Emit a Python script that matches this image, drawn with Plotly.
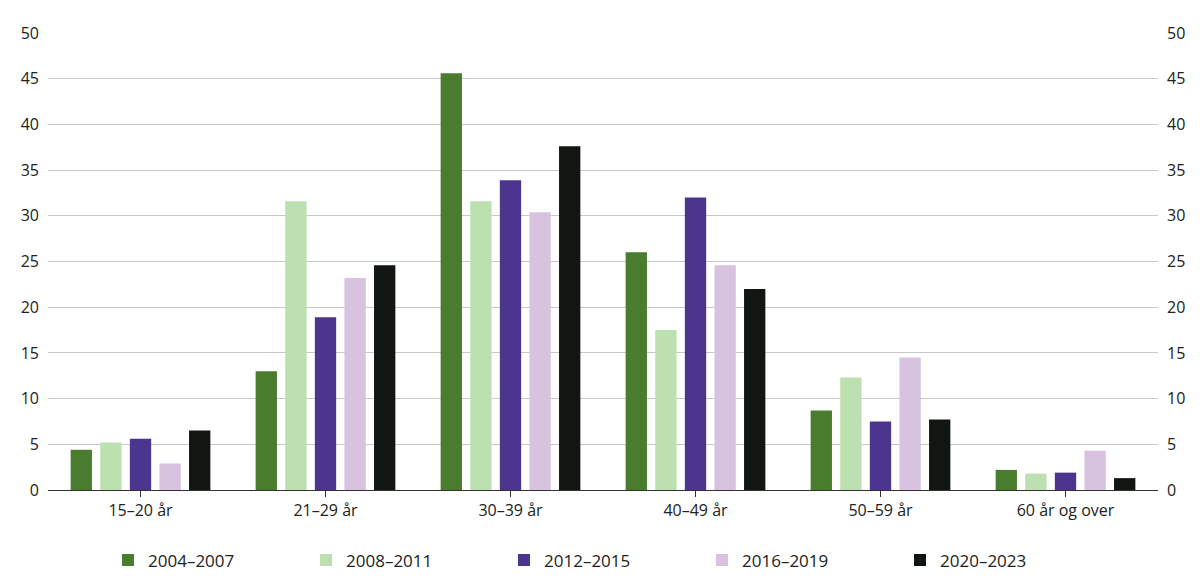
import plotly.graph_objects as go

categories = ["15–20 år", "21–29 år", "30–39 år", "40–49 år", "50–59 år", "60 år og over"]
series_names = ["2004–2007", "2008–2011", "2012–2015", "2016–2019", "2020–2023"]
s1 = [4.4, 13.0, 45.6, 26.0, 8.7, 2.2]
s2 = [5.2, 31.6, 31.6, 17.5, 12.3, 1.8]
s3 = [5.6, 18.9, 33.9, 32.0, 7.5, 1.9]
s4 = [2.9, 23.2, 30.4, 24.6, 14.5, 4.3]
s5 = [6.5, 24.6, 37.6, 22.0, 7.7, 1.3]
colors = ["#4a7c2e", "#bde0b0", "#4b358f", "#d7c3e0", "#121612"]
tick_vals = [0, 5, 10, 15, 20, 25, 30, 35, 40, 45, 50]

fig = go.Figure()
for name, vals, c in zip(series_names, [s1, s2, s3, s4, s5], colors):
    fig.add_trace(go.Bar(x=categories, y=vals, name=name, marker_color=c, marker_line_width=0))
fig.add_trace(go.Scatter(x=categories, y=s1, yaxis="y2", mode="none", showlegend=False, hoverinfo="skip"))

axis_common = dict(range=[0, 50], tickvals=tick_vals, showline=False, zeroline=False,
                   tickfont=dict(size=16, color="#222"))
fig.update_layout(
    width=1200, height=585, plot_bgcolor="white", paper_bgcolor="white",
    font=dict(family="Open Sans", size=16, color="#222"),
    barmode="group", bargap=0.2, bargroupgap=0.28,
    margin=dict(l=40, r=50, t=25, b=103),
    xaxis=dict(showline=True, linecolor="#333", linewidth=1, ticks="outside", ticklen=6,
               tickcolor="#333", tickfont=dict(size=16, color="#222")),
    yaxis=dict(**axis_common, showgrid=True, gridcolor="#c8c8c8", ticklabelstandoff=8),
    yaxis2=dict(**axis_common, overlaying="y", side="right", showgrid=False, ticklabelstandoff=8),
    legend=dict(orientation="h", x=0.5, xanchor="center", y=-0.115, yanchor="top",
                font=dict(size=17), itemwidth=30, entrywidth=153, traceorder="normal"),
)
fig.write_html("out.html")
